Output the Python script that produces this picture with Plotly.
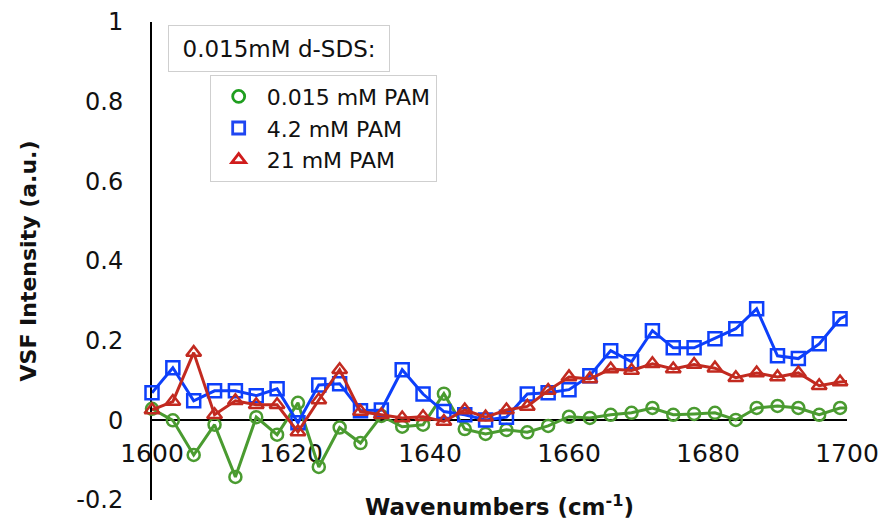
import plotly.graph_objects as go

# Wavenumber grid (cm^-1); the last sample sits just past the axis end
wavenumbers = [1600, 1603, 1606, 1609, 1612, 1615, 1618, 1621, 1624, 1627,
               1630, 1633, 1636, 1639, 1642, 1645, 1648, 1651, 1654, 1657,
               1660, 1663, 1666, 1669, 1672, 1675, 1678, 1681, 1684, 1687,
               1690, 1693, 1696, 1699, 1702]

pam_0015 = [0.029, 0.000, -0.087, -0.011, -0.142, 0.008, -0.036, 0.044, -0.117, -0.018,
            -0.057, 0.011, -0.016, -0.011, 0.067, -0.022, -0.034, -0.024, -0.030, -0.014,
            0.009, 0.006, 0.014, 0.019, 0.031, 0.014, 0.016, 0.019, 0.001, 0.031,
            0.036, 0.031, 0.014, 0.031, 0.031]

pam_42 = [0.069, 0.132, 0.049, 0.074, 0.074, 0.062, 0.079, -0.006, 0.089, 0.092,
          0.024, 0.026, 0.127, 0.066, 0.022, 0.014, 0.001, 0.008, 0.066, 0.069,
          0.077, 0.112, 0.175, 0.147, 0.225, 0.182, 0.182, 0.205, 0.230, 0.280,
          0.162, 0.155, 0.192, 0.255, 0.280]

pam_21 = [0.026, 0.047, 0.170, 0.014, 0.049, 0.039, 0.039, -0.029, 0.051, 0.127,
          0.022, 0.014, 0.006, 0.009, -0.003, 0.026, 0.008, 0.026, 0.035, 0.075,
          0.109, 0.104, 0.129, 0.125, 0.142, 0.129, 0.140, 0.131, 0.107, 0.119,
          0.109, 0.119, 0.087, 0.096, 0.100]

series_names = ["0.015 mM PAM", "4.2 mM PAM", "21 mM PAM"]
series_values = [pam_0015, pam_42, pam_21]
line_colors = ["#4a9b30", "#0d3ffa", "#c22a20"]
legend_colors = ["#1f9e1f", "#1f46f2", "#d01c1c"]
symbols = ["circle-open", "square-open", "triangle-up-open"]
marker_sizes = [12, 13, 13]

x_ticks = [1600, 1620, 1640, 1660, 1680, 1700]
x_tick_labels = ["1600", "1620", "1640", "1660", "1680", "1700"]
y_ticks = [-0.2, 0, 0.2, 0.4, 0.6, 0.8, 1]
y_tick_labels = ["-0.2", "0", "0.2", "0.4", "0.6", "0.8", "1"]

FONT = "DejaVu Sans"

fig = go.Figure()

for name, vals, lc, sym, ms in zip(series_names, series_values, line_colors, symbols, marker_sizes):
    # hide the marker of the off-axis sample; its line segment is clipped at 1700
    sizes = [ms if x <= 1700 else 0 for x in wavenumbers]
    fig.add_trace(go.Scatter(
        x=wavenumbers, y=vals, mode="lines+markers", name=name,
        line=dict(color=lc, width=3),
        marker=dict(symbol=sym, size=sizes, opacity=1, color=lc,
                    line=dict(width=2.5, color=lc)),
        cliponaxis=False, showlegend=False,
    ))

# marker-only legend entries
for name, c, sym in zip(series_names, legend_colors, symbols):
    fig.add_trace(go.Scatter(
        x=[None], y=[None], mode="markers", name=name,
        marker=dict(symbol=sym, size=12, color=c, line=dict(width=2.8, color=c)),
    ))

fig.add_annotation(
    xref="paper", yref="paper", x=0.023, y=0.994, xanchor="left", yanchor="top",
    text="0.015mM d-SDS:", showarrow=False,
    font=dict(family=FONT, size=23, color="#111111"),
    bordercolor="#cfcfcf", borderwidth=1, borderpad=4, bgcolor="white",
    width=212, height=37, align="center",
)

fig.update_layout(
    width=883, height=524,
    margin=dict(l=152, r=36, t=22, b=24, autoexpand=False),
    paper_bgcolor="white", plot_bgcolor="white",
    font=dict(family=FONT, color="#111111"),
    legend=dict(
        x=0.083, y=0.89, xanchor="left", yanchor="top",
        bordercolor="#cfcfcf", borderwidth=1, bgcolor="white",
        font=dict(family=FONT, size=22, color="#111111"),
        itemwidth=46, tracegroupgap=0,
    ),
    xaxis=dict(
        range=[1600, 1700], anchor="free", position=0.2 / 1.2, automargin=False,
        tickvals=x_ticks, ticktext=x_tick_labels,
        ticks="outside", ticklen=11, tickcolor="rgba(0,0,0,0)",
        tickfont=dict(family=FONT, size=25, color="#111111"),
        showgrid=False, zeroline=False,
        showline=True, linecolor="black", linewidth=2, layer="below traces",
        title=dict(text="<b>Wavenumbers (cm<sup>-1</sup>)</b>", standoff=31,
                   font=dict(family=FONT, size=23, color="#111111")),
    ),
    yaxis=dict(
        range=[-0.2, 1], domain=[0, 1], automargin=False,
        tickvals=y_ticks, ticktext=y_tick_labels,
        ticks="outside", ticklen=22, tickcolor="rgba(0,0,0,0)",
        tickfont=dict(family=FONT, size=24, color="#111111"),
        showgrid=False, zeroline=False,
        showline=True, linecolor="black", linewidth=2, layer="below traces",
        title=dict(text="<b>VSF Intensity (a.u.)</b>", standoff=34,
                   font=dict(family=FONT, size=22, color="#111111")),
    ),
)

fig.write_html("out.html")
